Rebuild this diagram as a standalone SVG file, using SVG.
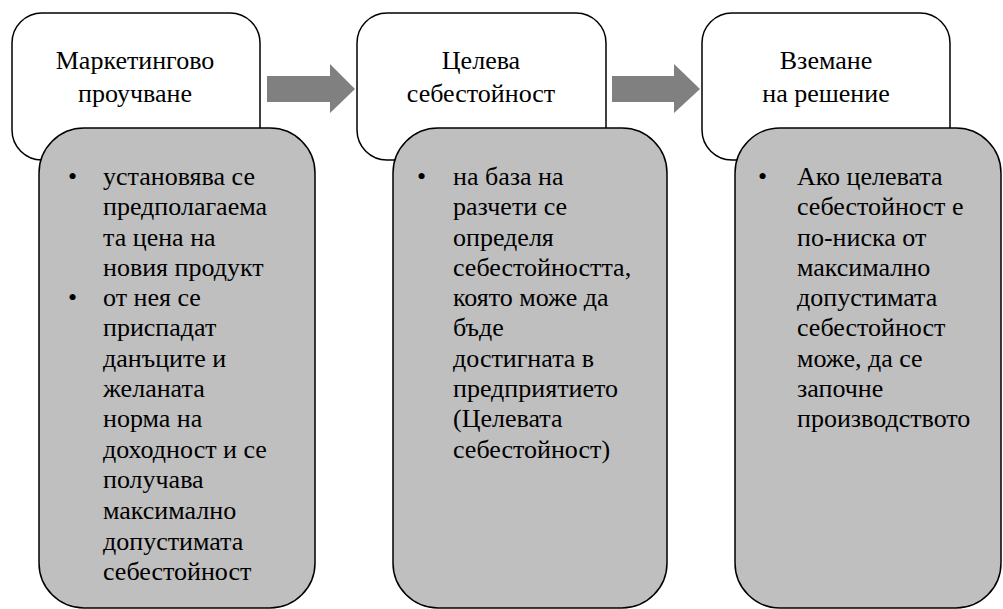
<svg xmlns="http://www.w3.org/2000/svg" width="1003" height="609" viewBox="0 0 1003 609">
<style>
.hdr{fill:#fff;stroke:#000;stroke-width:1.5}
.det{fill:#bfbfbf;stroke:#000;stroke-width:1.5}
.arr{fill:#808080;stroke:none}
text{font-family:"Liberation Serif","Times New Roman",serif;font-size:26px;fill:#000}
.c{text-anchor:middle}
</style>
<rect width="1003" height="609" fill="#fff"/>
<g id="connectors">
<polygon class="arr" points="267,76 330,76 330,64 355,89 330,113 330,102 267,102"/>
<polygon class="arr" points="612,76 674,76 674,64 700,89 674,113 674,102 612,102"/>
</g>
<g id="node1">
<rect class="hdr" x="12" y="13" width="248" height="147" rx="30"/>
<text class="c" x="135" y="69">Маркетингово</text>
<text class="c" x="135" y="102">проучване</text>
</g>
<g id="node1-detail">
<rect class="det" x="39" y="128" width="276" height="480" rx="45"/>
<text x="68" y="185">•</text>
<text x="68" y="306">•</text>
<text x="103" y="185">установява се</text>
<text x="103" y="215">предполагаема</text>
<text x="103" y="246">та цена на</text>
<text x="103" y="276">новия продукт</text>
<text x="103" y="306">от нея се</text>
<text x="103" y="336">приспадат</text>
<text x="103" y="367">данъците и</text>
<text x="103" y="397">желаната</text>
<text x="103" y="427">норма на</text>
<text x="103" y="458">доходност и се</text>
<text x="103" y="488">получава</text>
<text x="103" y="519">максимално</text>
<text x="103" y="550">допустимата</text>
<text x="103" y="580">себестойност</text>
</g>
<g id="node2">
<rect class="hdr" x="357" y="13" width="249" height="147" rx="30"/>
<text class="c" x="481" y="69">Целева</text>
<text class="c" x="481" y="102">себестойност</text>
</g>
<g id="node2-detail">
<rect class="det" x="393" y="128" width="274" height="480" rx="45"/>
<text x="417" y="185">•</text>
<text x="453" y="185">на база на</text>
<text x="453" y="215">разчети се</text>
<text x="453" y="246">определя</text>
<text x="453" y="276">себестойността,</text>
<text x="453" y="306">която може да</text>
<text x="453" y="336">бъде</text>
<text x="453" y="367">достигната в</text>
<text x="453" y="397">предприятието</text>
<text x="453" y="427">(Целевата</text>
<text x="453" y="458">себестойност)</text>
</g>
<g id="node3">
<rect class="hdr" x="702" y="13" width="248" height="147" rx="30"/>
<text class="c" x="826" y="69">Вземане</text>
<text class="c" x="826" y="102">на решение</text>
</g>
<g id="node3-detail">
<rect class="det" x="735" y="128" width="266" height="480" rx="45"/>
<text x="758" y="185">•</text>
<text x="797" y="185">Ако целевата</text>
<text x="797" y="215">себестойност е</text>
<text x="797" y="246">по-ниска от</text>
<text x="797" y="276">максимално</text>
<text x="797" y="306">допустимата</text>
<text x="797" y="336">себестойност</text>
<text x="797" y="367">може, да се</text>
<text x="797" y="397">започне</text>
<text x="797" y="427">производството</text>
</g>
</svg>
